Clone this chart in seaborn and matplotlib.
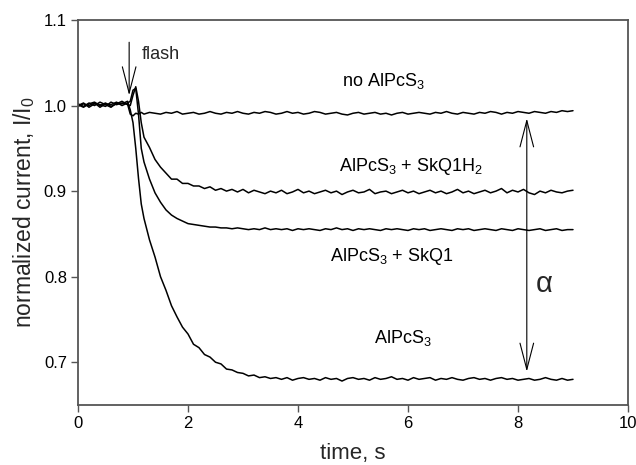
import numpy as np
import pandas as pd
import matplotlib
matplotlib.use("Agg")
import matplotlib.pyplot as plt
import seaborn as sns

# ---- data ----
t_pre = [0.0, 0.1, 0.2, 0.3, 0.4, 0.5, 0.6, 0.7, 0.8, 0.9]
t_flash = [0.95, 1.0, 1.05, 1.1, 1.15]
t_post = list(np.round(np.arange(1.2, 9.0001, 0.1), 2))
time = t_pre + t_flash + t_post

no_alpcs3 = [1.000, 1.003, 0.998, 1.002, 1.001, 0.999, 1.004, 1.001, 1.003, 1.002,
             0.990, 0.988, 0.991, 0.990, 0.992,
             0.990, 0.992, 0.991, 0.990, 0.992, 0.991, 0.993, 0.990, 0.991, 0.992,
             0.990, 0.991, 0.993, 0.991, 0.990, 0.992, 0.991, 0.993, 0.991, 0.990,
             0.992, 0.991, 0.993, 0.992, 0.990, 0.991, 0.993, 0.991, 0.992, 0.990,
             0.991, 0.993, 0.992, 0.990, 0.991, 0.992, 0.990, 0.989, 0.991, 0.992,
             0.990, 0.991, 0.992, 0.990, 0.991, 0.989, 0.991, 0.992, 0.990, 0.991,
             0.992, 0.991, 0.990, 0.992, 0.991, 0.993, 0.991, 0.990, 0.992, 0.991,
             0.990, 0.992, 0.991, 0.993, 0.992, 0.990, 0.992, 0.991, 0.993, 0.992,
             0.991, 0.993, 0.992, 0.991, 0.993, 0.992, 0.994, 0.993, 0.994]

alpcs3_skq1h2 = [1.001, 0.998, 1.002, 1.004, 1.000, 1.003, 0.999, 1.002, 1.005, 1.001,
                 1.000, 1.012, 1.022, 1.005, 0.980,
                 0.963, 0.951, 0.937, 0.928, 0.921, 0.914, 0.914, 0.909, 0.909, 0.906,
                 0.906, 0.903, 0.905, 0.901, 0.903, 0.900, 0.902, 0.899, 0.902, 0.898,
                 0.901, 0.899, 0.897, 0.900, 0.898, 0.901, 0.897, 0.899, 0.902, 0.898,
                 0.900, 0.897, 0.899, 0.901, 0.898, 0.900, 0.896, 0.899, 0.901, 0.898,
                 0.899, 0.902, 0.897, 0.899, 0.900, 0.897, 0.899, 0.901, 0.898, 0.900,
                 0.897, 0.899, 0.901, 0.898, 0.900, 0.897, 0.899, 0.902, 0.898, 0.900,
                 0.897, 0.899, 0.901, 0.898, 0.900, 0.903, 0.898, 0.901, 0.899, 0.902,
                 0.898, 0.896, 0.900, 0.898, 0.901, 0.899, 0.898, 0.900, 0.901]

alpcs3_skq1 = [0.999, 1.002, 1.000, 1.003, 0.998, 1.002, 1.001, 1.004, 1.000, 1.003,
               1.005, 1.018, 1.020, 0.990, 0.950,
               0.934, 0.914, 0.898, 0.887, 0.878, 0.872, 0.868, 0.865, 0.862, 0.861,
               0.860, 0.859, 0.858, 0.858, 0.857, 0.857, 0.856, 0.857, 0.856, 0.855,
               0.856, 0.855, 0.857, 0.855, 0.856, 0.855, 0.856, 0.854, 0.856, 0.855,
               0.856, 0.855, 0.854, 0.856, 0.855, 0.857, 0.855, 0.856, 0.854, 0.856,
               0.855, 0.856, 0.855, 0.854, 0.856, 0.855, 0.856, 0.855, 0.854, 0.856,
               0.855, 0.856, 0.854, 0.855, 0.856, 0.855, 0.854, 0.856, 0.855, 0.856,
               0.854, 0.855, 0.856, 0.855, 0.854, 0.856, 0.855, 0.854, 0.856, 0.855,
               0.854, 0.855, 0.856, 0.854, 0.855, 0.856, 0.854, 0.855, 0.855]

alpcs3 = [1.002, 0.999, 1.003, 1.000, 1.004, 1.001, 0.998, 1.003, 1.002, 1.005,
          0.995, 0.980, 0.950, 0.915, 0.885,
          0.868, 0.843, 0.823, 0.800, 0.784, 0.766, 0.753, 0.741, 0.733, 0.721,
          0.717, 0.709, 0.706, 0.700, 0.698, 0.692, 0.691, 0.688, 0.687, 0.684,
          0.685, 0.682, 0.683, 0.681, 0.682, 0.680, 0.682, 0.679, 0.681, 0.682,
          0.680, 0.681, 0.679, 0.682, 0.680, 0.681, 0.678, 0.681, 0.682, 0.680,
          0.681, 0.679, 0.682, 0.680, 0.681, 0.683, 0.680, 0.681, 0.679, 0.682,
          0.680, 0.681, 0.682, 0.679, 0.681, 0.680, 0.682, 0.680, 0.679, 0.681,
          0.682, 0.680, 0.681, 0.679, 0.681, 0.682, 0.680, 0.681, 0.679, 0.680,
          0.681, 0.679, 0.680, 0.682, 0.680, 0.679, 0.681, 0.679, 0.680]

series = {
    "no AlPcS3": no_alpcs3,
    "AlPcS3 + SkQ1H2": alpcs3_skq1h2,
    "AlPcS3 + SkQ1": alpcs3_skq1,
    "AlPcS3": alpcs3,
}

x_ticks = [0, 2, 4, 6, 8, 10]
y_ticks = [0.7, 0.8, 0.9, 1.0, 1.1]

# ---- style ----
sns.set_theme(style="ticks")
plt.rcParams["font.family"] = ["Liberation Sans", "DejaVu Sans"]
plt.rcParams["mathtext.fontset"] = "custom"
plt.rcParams["mathtext.rm"] = "Liberation Sans"
plt.rcParams["mathtext.it"] = "Liberation Sans:italic"

fig = plt.figure(figsize=(6.36, 4.65), dpi=100)
ax = fig.add_axes([78 / 636, 1 - 405 / 465, 550 / 636, 385 / 465])

rows = []
for name, vals in series.items():
    for tt, vv in zip(time, vals):
        rows.append((name, tt, vv))
df = pd.DataFrame(rows, columns=["curve", "t", "v"])

for name in series:
    sns.lineplot(data=df[df.curve == name], x="t", y="v", color="black",
                 lw=1.1, estimator=None, sort=False, ax=ax, legend=False)

ax.set_xlim(0, 10)
ax.set_ylim(0.65, 1.1)
ax.set_xticks(x_ticks)
ax.set_xticklabels([str(v) for v in x_ticks])
ax.set_yticks(y_ticks)
ax.set_yticklabels([f"{v:.1f}" for v in y_ticks])
ax.tick_params(axis="both", labelsize=12, direction="out", length=5,
               width=1.0, color="#555555", pad=3, labelcolor="black")
for sp in ax.spines.values():
    sp.set_visible(True)
    sp.set_color("#555555")
    sp.set_linewidth(1.3)

ax.set_xlabel("time, s", fontsize=16)
ax.xaxis.set_label_coords(0.5, -0.125)
ax.xaxis.label.set_va("center")
ax.set_ylabel(r"normalized current, I/I$_0$", fontsize=16.5)
ax.yaxis.set_label_coords(-0.098, 0.5)
ax.yaxis.label.set_va("center")

# annotations
txt_kw = dict(fontsize=13, color="black", ha="center", va="center")
ax.text(1.16, 1.06, "flash", fontsize=13, ha="left", va="center")
ax.text(5.55, 1.029, r"no AlPcS$_3$", **txt_kw)
ax.text(6.05, 0.929, r"AlPcS$_3$ + SkQ1H$_2$", **txt_kw)
ax.text(5.7, 0.823, r"AlPcS$_3$ + SkQ1", **txt_kw)
ax.text(5.9, 0.728, r"AlPcS$_3$", **txt_kw)
ax.text(8.47, 0.792, "α", fontsize=21, ha="center", va="center")

ax.annotate("", xy=(0.93, 1.012), xytext=(0.93, 1.074),
            arrowprops=dict(arrowstyle="->,head_length=1.35,head_width=0.35",
                            lw=0.8, color="black",
                            shrinkA=0, shrinkB=0, mutation_scale=14))
ax.annotate("", xy=(8.16, 0.985), xytext=(8.16, 0.689),
            arrowprops=dict(arrowstyle="<->,head_length=1.35,head_width=0.35",
                            lw=0.8, color="black",
                            shrinkA=0, shrinkB=0, mutation_scale=14))

fig.savefig("out.png", dpi=100)
